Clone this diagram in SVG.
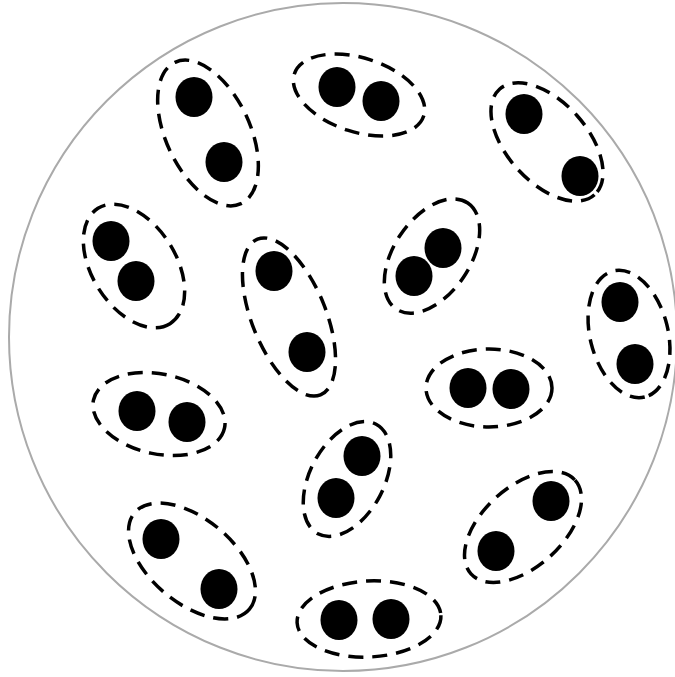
<svg xmlns="http://www.w3.org/2000/svg" width="675" height="677" viewBox="0 0 675 677">
<style>
.pair{fill:none;stroke:#000;stroke-width:3.5;stroke-dasharray:15 9}
.dot{fill:#000}
</style>
<rect width="675" height="677" fill="#fff"/>
<circle cx="343" cy="337" r="334" fill="#fff" stroke="#aaaaaa" stroke-width="2"/>
<g id="p1"><ellipse class="pair" cx="208" cy="133" rx="78" ry="42" transform="rotate(65 208 133)"/><ellipse class="dot" cx="194" cy="97" rx="18.5" ry="20"/><ellipse class="dot" cx="224" cy="162" rx="18.5" ry="20"/></g>
<g id="p2"><ellipse class="pair" cx="359" cy="95" rx="68" ry="37" transform="rotate(18 359 95)"/><ellipse class="dot" cx="337" cy="87" rx="18.5" ry="20"/><ellipse class="dot" cx="381" cy="101" rx="18.5" ry="20"/></g>
<g id="p3"><ellipse class="pair" cx="547" cy="142" rx="71" ry="40" transform="rotate(48 547 142)"/><ellipse class="dot" cx="524" cy="114" rx="18.5" ry="20"/><ellipse class="dot" cx="580" cy="176" rx="18.5" ry="20"/></g>
<g id="p4"><ellipse class="pair" cx="134" cy="266" rx="68" ry="42" transform="rotate(58 134 266)"/><ellipse class="dot" cx="111" cy="241" rx="18.5" ry="20"/><ellipse class="dot" cx="136" cy="281" rx="18.5" ry="20"/></g>
<g id="p5"><ellipse class="pair" cx="289" cy="317" rx="84" ry="37" transform="rotate(68 289 317)"/><ellipse class="dot" cx="274" cy="271" rx="18.5" ry="20"/><ellipse class="dot" cx="307" cy="352" rx="18.5" ry="20"/></g>
<g id="p6"><ellipse class="pair" cx="432" cy="256" rx="64" ry="38" transform="rotate(-56 432 256)"/><ellipse class="dot" cx="443" cy="248" rx="18.5" ry="20"/><ellipse class="dot" cx="414" cy="276" rx="18.5" ry="20"/></g>
<g id="p7"><ellipse class="pair" cx="629" cy="334" rx="65" ry="39" transform="rotate(76 629 334)"/><ellipse class="dot" cx="620" cy="302" rx="18.5" ry="20"/><ellipse class="dot" cx="635" cy="364" rx="18.5" ry="20"/></g>
<g id="p8"><ellipse class="pair" cx="489" cy="388" rx="63" ry="39"/><ellipse class="dot" cx="468" cy="388" rx="18.5" ry="20"/><ellipse class="dot" cx="511" cy="389" rx="18.5" ry="20"/></g>
<g id="p9"><ellipse class="pair" cx="159" cy="414" rx="67" ry="40" transform="rotate(12 159 414)"/><ellipse class="dot" cx="137" cy="411" rx="18.5" ry="20"/><ellipse class="dot" cx="187" cy="422" rx="18.5" ry="20"/></g>
<g id="p10"><ellipse class="pair" cx="347" cy="479" rx="62" ry="37" transform="rotate(-62 347 479)"/><ellipse class="dot" cx="362" cy="456" rx="18.5" ry="20"/><ellipse class="dot" cx="336" cy="498" rx="18.5" ry="20"/></g>
<g id="p11"><ellipse class="pair" cx="523" cy="527" rx="70" ry="40" transform="rotate(-42 523 527)"/><ellipse class="dot" cx="551" cy="501" rx="18.5" ry="20"/><ellipse class="dot" cx="496" cy="551" rx="18.5" ry="20"/></g>
<g id="p12"><ellipse class="pair" cx="192" cy="561" rx="75" ry="42" transform="rotate(40 192 561)"/><ellipse class="dot" cx="161" cy="539" rx="18.5" ry="20"/><ellipse class="dot" cx="219" cy="589" rx="18.5" ry="20"/></g>
<g id="p13"><ellipse class="pair" cx="369" cy="619" rx="72" ry="38" transform="rotate(-3 369 619)"/><ellipse class="dot" cx="339" cy="620" rx="18.5" ry="20"/><ellipse class="dot" cx="391" cy="619" rx="18.5" ry="20"/></g>
<g id="connectors"/>
</svg>
